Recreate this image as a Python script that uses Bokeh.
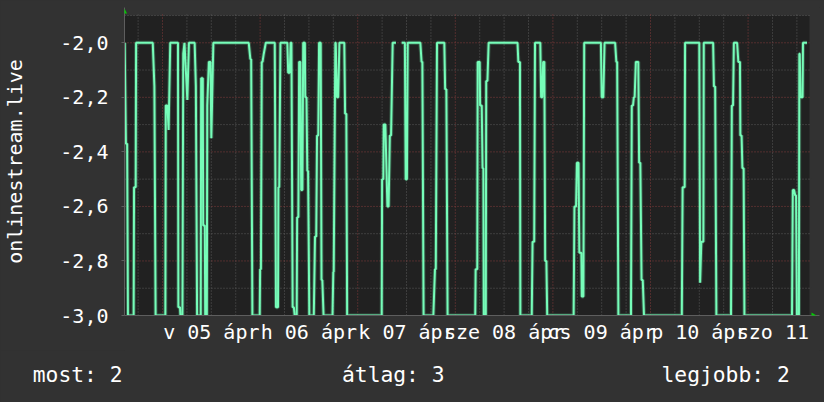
import math
from bokeh.plotting import figure
from bokeh.layouts import column
from bokeh.models import (FixedTicker, CustomJSTickFormatter, Label,
                          PolyAnnotation, BoxAnnotation, Range1d)
from bokeh.embed import file_html
from bokeh.resources import INLINE

# time in hours since 2020-04-05 00:00 (Sunday), value = negative rank
hours = [
    -9.3, -9.0, -8.7, -8.5, -7.1, -7.0, -6.6, -6.5, -2.4, -2.0, -1.7,
    0.7, 0.8, 1.2, 1.5, 1.9, 3.8, 3.9, 4.3, 4.4, 4.9, 5.1, 5.4, 6.1, 6.5,
    7.9, 8.2, 8.5, 9.4, 9.5, 9.9, 10.0, 10.4, 10.5, 10.9, 11.0, 11.4, 11.8, 12.0, 12.5,
    21.2, 21.6, 21.8, 22.1,
    23.9, 24.0, 24.2, 24.4, 24.6, 24.9, 25.4, 27.6, 27.9, 28.4, 28.5, 28.7, 29.0,
    30.7, 30.9, 31.3, 31.5, 31.7, 32.0, 32.3, 32.5, 33.0, 33.1, 33.4, 33.6, 33.9,
    34.1, 34.4, 34.6, 35.0, 35.1, 35.4, 35.6, 35.8, 36.1,
    37.2, 37.5, 37.8, 38.0, 38.3, 38.5, 38.9, 39.1, 39.3, 39.6,
    41.8, 42.0, 42.1, 42.5, 42.6, 42.9, 43.2, 43.5, 44.7, 44.9, 45.2, 45.4,
    53.9, 54.0, 54.3, 54.4, 54.8, 55.3, 55.6, 55.9, 56.2, 56.6,
    57.4, 57.5, 58.8, 59.6, 59.8, 60.1, 60.3,
    63.4, 63.7, 63.9, 64.2, 66.6, 67.0, 67.2, 67.5, 69.3, 69.5, 69.8, 70.1,
    76.9, 77.0, 77.4, 77.5, 78.0, 78.1, 78.5, 78.7, 78.9, 79.0, 79.5, 79.6, 79.9, 80.2,
    87.3, 87.5, 87.9, 88.0,
    90.8, 91.0, 91.4, 91.6, 92.9, 93.1, 93.4, 93.6, 93.9, 94.1, 94.4, 94.6,
    101.1, 101.3, 101.7, 101.9, 102.3, 102.5, 103.0, 103.1, 103.5, 103.7,
    107.8, 108.0, 108.4, 108.7, 111.3, 111.6, 111.8, 112.1,
    115.2, 115.4, 115.7, 115.9, 116.1, 116.4, 117.0, 117.2, 117.5, 117.8, 118.1, 118.4,
    127.7, 127.9, 128.4, 128.5, 132.0, 132.2, 132.5, 133.0, 133.1,
    135.4, 135.6, 135.9, 136.2, 139.8, 140.0, 140.3, 140.5, 141.3, 141.6, 142.0,
    142.1, 142.4, 142.6, 142.9, 143.1,
    154.8, 155.0, 155.3, 155.6, 155.8, 156.0, 156.5, 156.6, 156.7, 156.9, 157.4, 157.5, 158.5,
]
nan = math.nan
rank = [
    -2.0, -2.37, -2.37, -3.0, -3.0, -2.53, -2.53, -2.0, -2.0, -2.16, -3.0,
    -3.0, -2.23, -2.23, -2.32, -2.0, -2.0, -2.97, -2.97, -3.0, -3.0, -2.04, -2.0, -2.21, -2.0,
    -2.0, -2.16, -3.0, -3.0, -2.13, -2.13, -2.67, -2.67, -3.0, -3.0, -2.23, -2.07, -2.07, -2.35, -2.0,
    -2.0, -2.06, -2.06, -3.0,
    -3.0, -2.83, -2.83, -2.07, -2.07, -2.04, -2.0, -2.0, -2.97, -2.97, -2.53, -2.53, -2.0,
    -2.0, -2.11, -2.11, -2.0, -2.0, -2.97, -2.97, -3.0, -3.0, -2.64, -2.64, -2.07, -2.07,
    -2.54, -2.54, -2.0, -2.0, -2.2, -2.2, -2.47, -2.47, -3.0,
    -3.0, -2.71, -2.71, -2.34, -2.34, -2.0, -2.0, -2.87, -2.87, -3.0,
    -3.0, -2.84, -2.84, -2.0, -2.0, -2.2, -2.2, -2.0, -2.0, -2.26, -2.26, -3.0,
    -3.0, -2.5, -2.5, -2.3, -2.3, -2.6, -2.6, -2.34, -2.34, -2.0,
    -2.0, nan, -2.0, -2.0, -2.5, -2.5, -2.0,
    -2.0, -2.07, -2.07, -3.0, -3.0, -2.83, -2.83, -2.0, -2.0, -2.17, -2.17, -3.0,
    -3.0, -2.83, -2.83, -2.07, -2.07, -2.23, -2.23, -2.46, -2.46, -3.0, -3.0, -2.14, -2.14, -2.0,
    -2.0, -2.07, -2.07, -3.0,
    -3.0, -2.73, -2.73, -2.0, -2.0, -2.2, -2.2, -2.07, -2.07, -2.8, -2.8, -3.0,
    -3.0, -2.6, -2.6, -2.44, -2.44, -2.77, -2.77, -2.93, -2.93, -2.0,
    -2.0, -2.2, -2.2, -2.0, -2.0, -2.07, -2.07, -3.0,
    -3.0, -2.23, -2.23, -2.2, -2.2, -2.07, -2.07, -2.44, -2.44, -2.87, -2.87, -3.0,
    -3.0, -2.53, -2.53, -2.0, -2.0, -2.88, -2.73, -2.73, -2.0,
    -2.0, -2.16, -2.16, -3.0, -3.0, -2.23, -2.23, -2.0, -2.0, -2.07, -2.07,
    -2.34, -2.34, -2.46, -2.46, -3.0,
    -3.0, -2.54, -2.54, -2.56, -2.56, -3.0, -3.0, -2.04, -2.04, -2.2, -2.2, -2.0, -2.0,
]

# day labels sit at noon; the last one runs off the right edge in the original,
# so only its visible part is kept, centred where that part appears
day_ticks = [12, 36, 60, 84, 108, 132, 150.1]
day_labels = ["v 05 ápr", "h 06 ápr", "k 07 ápr", "sze 08 ápr",
              "cs 09 ápr", "p 10 ápr", "szo 11"]
midnights = [0, 24, 48, 72, 96, 120, 144]
six_hours = [-6, 6, 12, 18, 30, 36, 42, 54, 60, 66, 78, 84, 90, 102, 108, 114,
             126, 132, 138, 150, 156]
y_major = [-3.0, -2.8, -2.6, -2.4, -2.2, -2.0]
y_minor = [-2.9, -2.7, -2.5, -2.3, -2.1, -1.9]
y_title = "onlinestream.live"
summary_texts = ["most: 2", "átlag: 3", "legjobb: 2"]

# visible window of the graph
T0, T1 = -9.35, 159.1
V0, V1 = -3.0, -1.9

MONO = "DejaVu Sans Mono"
BG = "#323232"
CANVAS = "#212121"
LINE = "#76fdb9"
MINOR = "#5a5a5a"
MAJOR = "#843c3c"
AXIS = "#5e5e5e"
ARROW = "#00cc00"

p = figure(width=824, height=350, output_backend="svg", toolbar_location=None,
           x_range=Range1d(T0, 161.56), y_range=Range1d(V0, -1.8706),
           min_border_left=124, min_border_right=5, min_border_top=7,
           min_border_bottom=35, background_fill_color=BG,
           border_fill_color=BG, outline_line_color=None)
p.xgrid.visible = False
p.ygrid.visible = False

# dark canvas of the graph
p.add_layout(BoxAnnotation(left=T0, right=T1, bottom=V0, top=V1, level="underlay",
                           fill_color=CANVAS, fill_alpha=1, line_color=None))

# dotted grid
p.segment(x0=six_hours, x1=six_hours, y0=[V0] * len(six_hours), y1=[-1.893] * len(six_hours),
          line_color=MINOR, line_dash="1 2", line_width=1)
p.segment(x0=[T0] * len(y_minor), x1=[159.6] * len(y_minor), y0=y_minor, y1=y_minor,
          line_color=MINOR, line_dash="1 2", line_width=1)
p.segment(x0=midnights, x1=midnights, y0=[V0] * len(midnights), y1=[-1.893] * len(midnights),
          line_color=MAJOR, line_dash="1 2", line_width=1)
p.segment(x0=[T0] * len(y_major), x1=[159.6] * len(y_major), y0=y_major, y1=y_major,
          line_color=MAJOR, line_dash="1 2", line_width=1)

# line with a soft halo, as in the original
p.line(hours, rank, line_color=LINE, line_width=4, line_alpha=0.25)
p.line(hours, rank, line_color=LINE, line_width=2)

# arrows at the axis ends
p.add_layout(PolyAnnotation(xs=[T0 - 0.62, T0, T0 + 0.62], ys=[-1.8927, -1.8743, -1.8927],
                            fill_color=ARROW, fill_alpha=1, line_color=None))
p.add_layout(PolyAnnotation(xs=[159.6, 160.8, 159.6], ys=[-2.989, -3.0, -3.011],
                            fill_color=ARROW, fill_alpha=1, line_color=None))

xa = p.xaxis[0]
xa.ticker = FixedTicker(ticks=day_ticks, minor_ticks=[])
xa.formatter = CustomJSTickFormatter(args=dict(labels=day_labels),
                                     code="return labels[index];")
xa.major_tick_out = 0
xa.major_tick_in = 0
xa.minor_tick_out = 0
xa.major_label_standoff = 4
xa.major_label_text_font = MONO
xa.major_label_text_font_size = "20px"
xa.major_label_text_color = "#ffffff"
xa.axis_line_color = AXIS

ya = p.yaxis[0]
ya.ticker = FixedTicker(ticks=y_major, minor_ticks=[])
ya.formatter = CustomJSTickFormatter(code="return tick.toFixed(1).replace('.', ',');")
ya.major_tick_out = 3
ya.major_tick_in = 0
ya.major_tick_line_color = AXIS
ya.minor_tick_out = 0
ya.major_label_standoff = 13
ya.major_label_text_font = MONO
ya.major_label_text_font_size = "20px"
ya.major_label_text_color = "#ffffff"
ya.axis_line_color = AXIS
ya.axis_label = y_title
ya.axis_label_text_font = MONO
ya.axis_label_text_font_size = "20px"
ya.axis_label_text_font_style = "normal"
ya.axis_label_text_color = "#ffffff"
ya.axis_label_standoff = 30

# summary strip below the chart (its frame lines up with the chart's frame)
p2 = figure(width=824, height=52, output_backend="svg", toolbar_location=None,
            x_range=Range1d(124, 819), y_range=Range1d(52, 0),
            x_axis_location=None, y_axis_location="left",
            min_border_left=124, min_border_right=5, min_border_top=0,
            min_border_bottom=0, background_fill_color=BG,
            border_fill_color=BG, outline_line_color=None)
p2.xgrid.visible = False
p2.ygrid.visible = False
SUM_Y = 23.5
sa = p2.yaxis[0]
sa.ticker = FixedTicker(ticks=[SUM_Y], minor_ticks=[])
sa.formatter = CustomJSTickFormatter(args=dict(t=summary_texts[0]), code="return t;")
sa.major_tick_out = 0
sa.major_tick_in = 0
sa.minor_tick_out = 0
sa.axis_line_color = None
sa.major_label_standoff = 2
sa.major_label_text_font = MONO
sa.major_label_text_font_size = "21.3px"
sa.major_label_text_color = "#ffffff"
for txt, xv in zip(summary_texts[1:], [341.5, 661]):
    p2.add_layout(Label(x=xv, y=SUM_Y, text=txt, text_font=MONO,
                        text_font_size="21.3px", text_color="#ffffff",
                        text_baseline="middle", text_align="left"))

layout = column(p, p2, spacing=0, styles={"background-color": BG})
open("out.html", "w").write(file_html(layout, INLINE))
